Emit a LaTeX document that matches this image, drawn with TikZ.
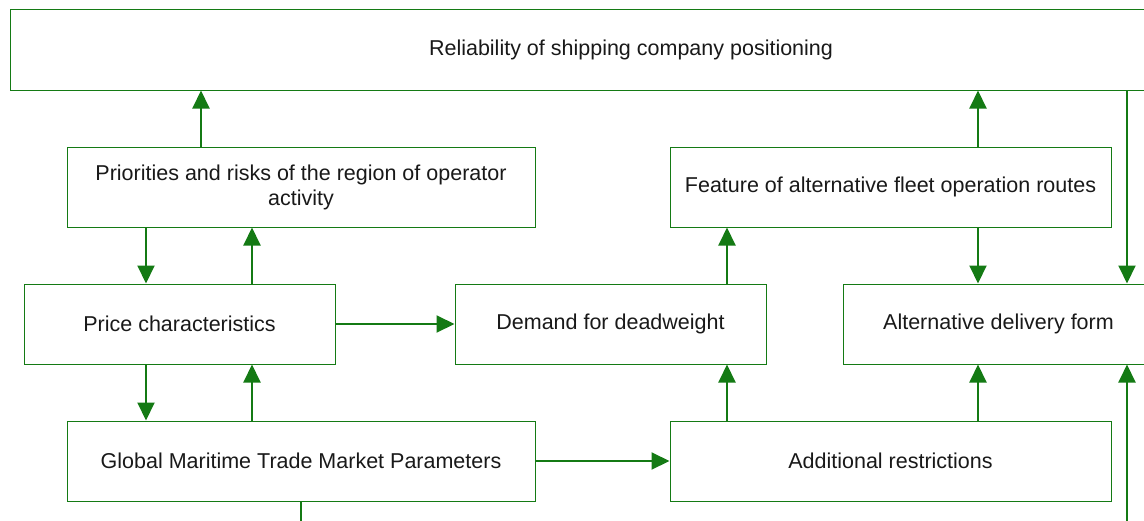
\documentclass[tikz,border=0pt]{standalone}
\usepackage{fontspec}
\setmainfont{Liberation Sans}
\usepackage{tikz}
\usetikzlibrary{arrows.meta}
\definecolor{boxgreen}{RGB}{20,122,20}

\begin{document}
\begin{tikzpicture}[x=1pt,y=-1pt,
	box/.style = {draw=boxgreen, line width=1pt, fill=white, inner sep=0pt,
		minimum height=80pt, align=center, text=black!90,
		font=\fontsize{21.5}{25}\selectfont},
	link/.style = {draw=boxgreen, line width=2pt,
		-{Triangle[width=17pt,length=18pt]}}]
	\useasboundingbox (0,0) rectangle (1144,520);
	\clip (0,0) rectangle (1144,520);
	% boxes
	\node [box, minimum width=1242pt, minimum height=81pt] (top) at (631,49.5) {Reliability of shipping company positioning};
	\node [box, minimum width=468pt] (prio) at (301,187) {Priorities and risks of the region of operator\\activity};
	\node [box, minimum width=441pt] (feat) at (890.5,187) {Feature of alternative fleet operation routes};
	\node [box, minimum width=311pt] (price) at (179.5,324) {Price characteristics};
	\node [box, minimum width=311pt] (demand) at (610.5,324) {Demand for deadweight};
	\node [box, minimum width=311pt] (alt) at (998.5,324) {Alternative delivery form};
	\node [box, minimum width=468pt] (global) at (301,461) {Global Maritime Trade Market Parameters};
	\node [box, minimum width=441pt] (addit) at (890.5,461) {Additional restrictions};
	% columns of the connectors
	\coordinate (xa) at (146,0);
	\coordinate (xb) at (201,0);
	\coordinate (xc) at (252,0);
	\coordinate (xg) at (301,0);
	\coordinate (xd) at (727,0);
	\coordinate (xe) at (978,0);
	\coordinate (xf) at (1127,0);
	\coordinate (bot) at (0,535);
	% connectors
	\draw [link] (prio.north -| xb) -- (top.south -| xb);
	\draw [link] (prio.south -| xa) -- (price.north -| xa);
	\draw [link] (price.north -| xc) -- (prio.south -| xc);
	\draw [link] (price.east) -- (demand.west);
	\draw [link] (price.south -| xa) -- (global.north -| xa);
	\draw [link] (global.north -| xc) -- (price.south -| xc);
	\draw [link] (global.east) -- (addit.west);
	\draw [link] (demand.north -| xd) -- (feat.south -| xd);
	\draw [link] (addit.north -| xd) -- (demand.south -| xd);
	\draw [link] (feat.north -| xe) -- (top.south -| xe);
	\draw [link] (feat.south -| xe) -- (alt.north -| xe);
	\draw [link] (addit.north -| xe) -- (alt.south -| xe);
	\draw [link] (top.south -| xf) -- (alt.north -| xf);
	\draw [link] (bot -| xf) -- (alt.south -| xf);
	\draw [draw=boxgreen, line width=2pt] (global.south -| xg) -- (bot -| xg);
\end{tikzpicture}
\end{document}
